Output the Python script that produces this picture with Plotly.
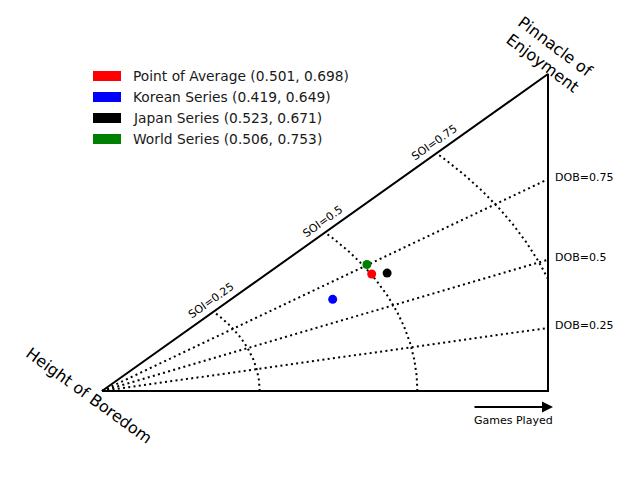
import numpy as np
import plotly.graph_objects as go

# ---- data ----
series_names = ["Point of Average", "Korean Series", "Japan Series", "World Series"]
soi_values = [0.501, 0.419, 0.523, 0.506]
dob_values = [0.698, 0.649, 0.671, 0.753]
series_colors = ["#ff0000", "#0000ff", "#000000", "#008000"]

soi_grid = [0.25, 0.5, 0.75]
dob_grid = [0.25, 0.5, 0.75]

OFF = 8  # page body margin
W, H = 640 - OFF, 480 - OFF
# pixel frame (screen coords): data (0,0) -> (102,391), data (1,1) -> (548,74)
X0, X1 = 102 - OFF, 548 - OFF
Y0, Y1 = 391 - OFF, 74 - OFF
sx = X1 - X0
sy = Y0 - Y1
xr = [-X0 / sx, (W - X0) / sx]
yr = [-(H - Y0) / sy, Y0 / sy]

def px(p):
    return (p - OFF - X0) / sx

def py(p):
    return (Y0 - (p - OFF)) / sy

def to_xy(soi, dob):
    r = np.asarray(soi) * np.sqrt(2)
    a = np.asarray(dob) * np.pi / 4
    return r * np.cos(a), r * np.sin(a)

FONT = "DejaVu Sans"
fig = go.Figure()

dotted = dict(color="black", width=2, dash="2px,3.3px")

# DOB rays
for d in dob_grid:
    a = d * np.pi / 4
    fig.add_trace(go.Scatter(x=[0, 1], y=[0, np.tan(a)], mode="lines",
                             line=dotted, hoverinfo="skip", showlegend=False))

# SOI arcs
for s in soi_grid:
    r = s * np.sqrt(2)
    a_min = np.arccos(min(1.0, 1.0 / r))
    t = np.linspace(a_min, np.pi / 4, 200)
    fig.add_trace(go.Scatter(x=r * np.cos(t), y=r * np.sin(t), mode="lines",
                             line=dotted, hoverinfo="skip", showlegend=False))

# triangle
fig.add_trace(go.Scatter(x=[0, 1, 1, 0], y=[0, 0, 1, 0], mode="lines",
                         line=dict(color="black", width=2), hoverinfo="skip",
                         showlegend=False))

# points
for n, s, d, c in zip(series_names, soi_values, dob_values, series_colors):
    x, y = to_xy(s, d)
    fig.add_trace(go.Scatter(x=[float(x)], y=[float(y)], mode="markers", name=n,
                             marker=dict(color=c, size=9, line=dict(width=0)),
                             showlegend=False))

ann = []
# SOI labels
for s in soi_grid:
    ann.append(dict(x=s, y=s, text=f"SOI={s:g}", showarrow=False, textangle=-35.4,
                    xshift=-2, yshift=11, font=dict(family=FONT, size=11, color="black")))
# DOB labels
for d in dob_grid:
    ann.append(dict(x=1, y=float(np.tan(d * np.pi / 4)), text=f"DOB={d:g}", showarrow=False,
                    xanchor="left", yanchor="middle", xshift=5, yshift=2,
                    font=dict(family=FONT, size=11, color="black")))

# corner labels
ann.append(dict(x=px(549), y=py(55), text="Pinnacle of<br>Enjoyment", showarrow=False,
                textangle=37, font=dict(family=FONT, size=16, color="black")))
ann.append(dict(x=px(89), y=py(395), text="Height of Boredom", showarrow=False,
                textangle=36, font=dict(family=FONT, size=16, color="black")))

# Games Played arrow
ann.append(dict(x=px(553), y=py(407), ax=px(473), ay=py(407), axref="x", ayref="y",
                xref="x", yref="y", showarrow=True, arrowhead=2, arrowsize=1.1,
                arrowwidth=2, arrowcolor="black", text=""))
ann.append(dict(x=px(513), y=py(420), text="Games Played", showarrow=False,
                font=dict(family=FONT, size=11, color="black")))

# manual legend
shapes = []
for i, (n, s, d, c) in enumerate(zip(series_names, soi_values, dob_values, series_colors)):
    yc = 76 + 21 * i
    shapes.append(dict(type="rect", xref="x", yref="y", x0=px(93), x1=px(121),
                       y0=py(yc - 5), y1=py(yc + 5), fillcolor=c, line=dict(width=0)))
    ann.append(dict(x=px(131), y=py(yc), text=f"{n} ({s:.3f}, {d:.3f})", showarrow=False,
                    xanchor="left", yanchor="middle",
                    font=dict(family=FONT, size=13.8, color="#1a1a1a")))

fig.update_layout(
    width=W, height=H, autosize=False,
    margin=dict(l=0, r=0, t=0, b=0),
    paper_bgcolor="white", plot_bgcolor="white",
    xaxis=dict(range=xr, visible=False, fixedrange=True),
    yaxis=dict(range=yr, visible=False, fixedrange=True),
    annotations=ann, shapes=shapes, showlegend=False,
)

fig.write_html("out.html")
